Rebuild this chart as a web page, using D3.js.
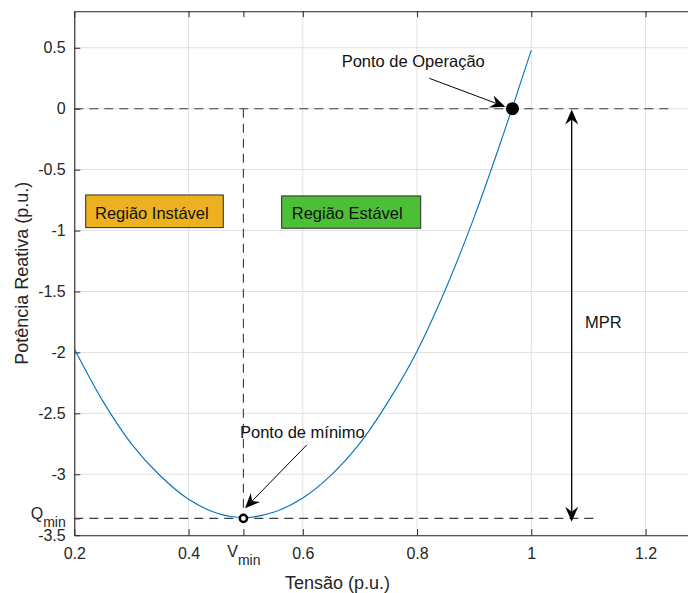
<!DOCTYPE html>
<html>
<head>
<meta charset="utf-8">
<script src="https://cdn.jsdelivr.net/npm/d3@7"></script>
<style>
  body { margin: 0; background: #fff; }
  svg { display: block; }
  text { font-family: "Liberation Sans", Arial, Helvetica, sans-serif; }
</style>
</head>
<body>
<svg id="chart" width="688" height="593"></svg>
<script>
// Curva Q x V (potência reativa em função da tensão)
const voltage  = [0.20, 0.25, 0.30, 0.35, 0.40, 0.45, 0.50, 0.55, 0.60,
                  0.65, 0.70, 0.75, 0.80, 0.85, 0.90, 0.95, 1.00];
const reactive = [-1.97, -2.40, -2.75, -3.01, -3.205, -3.32, -3.355, -3.31, -3.195,
                  -3.005, -2.745, -2.40, -1.99, -1.48, -0.89, -0.225, 0.48];

// Pontos notáveis
const vMin = 0.496, qMin = -3.362;   // ponto de mínimo
const vOp = 0.967, qOp = 0;          // ponto de operação

// Eixos
const xTicks = [0.2, 0.4, 0.6, 0.8, 1.0, 1.2];
const yTicks = [-3.5, -3, -2.5, -2, -1.5, -1, -0.5, 0, 0.5];
const xDomain = [0.2, 1.3];
const yDomain = [-3.5, 0.8];

// Textos
const regionLabels = ["Região Instável", "Região Estável"];
const pointLabels = ["Ponto de Operação", "Ponto de mínimo"];
const marginLabel = "MPR";
const xLabel = "Tensão (p.u.)";
const yLabel = "Potência Reativa (p.u.)";

const svg = d3.select("#chart");
const plotLeft = 74.3, plotRight = 702.7, plotTop = 11.2, plotBottom = 535.2;
const x = d3.scaleLinear().domain(xDomain).range([plotLeft, plotRight]);
const y = d3.scaleLinear().domain(yDomain).range([plotBottom, plotTop]);

const axisColor = "#262626";
const gridColor = "#e1e1e1";
const dashColor = "#3c3c3c";

// Grade
const grid = svg.append("g");
grid.selectAll("line.gx").data(xTicks).join("line")
  .attr("x1", d => x(d)).attr("x2", d => x(d))
  .attr("y1", plotTop).attr("y2", plotBottom)
  .attr("stroke", gridColor).attr("stroke-width", 1);
grid.selectAll("line.gy").data(yTicks).join("line")
  .attr("x1", plotLeft).attr("x2", plotRight)
  .attr("y1", d => y(d)).attr("y2", d => y(d))
  .attr("stroke", gridColor).attr("stroke-width", 1);

// Eixo inferior com V_min
const fmt = d => String(d);
const xAxis = svg.append("g").attr("transform", `translate(0,${plotBottom})`)
  .call(d3.axisBottom(x).tickValues([...xTicks, vMin]).tickSizeInner(-6).tickSizeOuter(0)
        .tickPadding(12.5).tickFormat(d => d === vMin ? "" : fmt(d)));
// Eixo superior (apenas marcas)
const xTop = svg.append("g").attr("transform", `translate(0,${plotTop})`)
  .call(d3.axisTop(x).tickValues([...xTicks, vMin]).tickSizeInner(-6).tickSizeOuter(0)
        .tickFormat(() => ""));
// Eixo esquerdo com Q_min
const yAxis = svg.append("g").attr("transform", `translate(${plotLeft},0)`)
  .call(d3.axisLeft(y).tickValues([...yTicks, qMin]).tickSizeInner(-6).tickSizeOuter(0)
        .tickPadding(8.6).tickFormat(d => d === qMin ? "" : fmt(d)));

[xAxis, xTop, yAxis].forEach(g => {
  g.selectAll("path.domain").attr("stroke", axisColor).attr("stroke-width", 1.1);
  g.selectAll(".tick line").attr("stroke", axisColor).attr("stroke-width", 1);
  g.selectAll(".tick text").attr("fill", axisColor)
    .style("font-family", '"Liberation Sans", Arial, sans-serif').style("font-size", "16px");
});

// Rótulo V_min
const vTick = xAxis.selectAll(".tick").filter(d => d === vMin).select("text")
  .attr("dy", null).attr("y", 21.5).attr("text-anchor", "middle");
vTick.append("tspan").text("V");
vTick.append("tspan").text("min").attr("dy", 8).style("font-size", "14px");

// Rótulo Q_min
const qTick = yAxis.selectAll(".tick").filter(d => d === qMin).select("text")
  .attr("dy", null).attr("y", 0.5).attr("text-anchor", "end");
qTick.append("tspan").text("Q");
qTick.append("tspan").text("min").attr("dy", 7.5).style("font-size", "14px");

// Rótulos dos eixos
svg.append("text").attr("x", 337.5).attr("y", 589)
  .attr("text-anchor", "middle").attr("fill", axisColor)
  .style("font-size", "18px").text(xLabel);
svg.append("text").attr("transform", `translate(28,${(plotTop + plotBottom) / 2}) rotate(-90)`)
  .attr("text-anchor", "middle").attr("fill", axisColor)
  .style("font-size", "18px").text(yLabel);

// Linhas tracejadas de referência
const dashed = svg.append("g").attr("stroke", dashColor).attr("stroke-width", 1.1)
  .attr("stroke-dasharray", "9,6").attr("fill", "none");
dashed.append("line").attr("x1", x(0.2)).attr("x2", x(1.24)).attr("y1", y(0)).attr("y2", y(0));
dashed.append("line").attr("x1", x(vMin)).attr("x2", x(vMin)).attr("y1", y(0)).attr("y2", y(qMin));
dashed.append("line").attr("x1", x(0.2)).attr("x2", x(1.11)).attr("y1", y(qMin)).attr("y2", y(qMin));

// Curva
const pts = voltage.map((v, i) => [v, reactive[i]]);
svg.append("path").datum(pts)
  .attr("d", d3.line().x(d => x(d[0])).y(d => y(d[1])).curve(d3.curveCatmullRom))
  .attr("fill", "none").attr("stroke", "#0072BD").attr("stroke-width", 1.1);

// Caixas de região
const boxes = [
  { label: regionLabels[0], v0: 0.22, v1: 0.4608, q0: -0.708, q1: -0.976, tv: 0.2362, fill: "#EDB120" },
  { label: regionLabels[1], v0: 0.563, v1: 0.8064, q0: -0.716, q1: -0.981, tv: 0.5806, fill: "#4CBF37" }
];
boxes.forEach(b => {
  svg.append("rect").attr("x", x(b.v0)).attr("y", y(b.q0))
    .attr("width", x(b.v1) - x(b.v0)).attr("height", y(b.q1) - y(b.q0))
    .attr("fill", b.fill).attr("stroke", "#2b2b2b").attr("stroke-width", 1);
  svg.append("text").attr("x", x(b.tv)).attr("y", y(-0.905))
    .attr("fill", "#111").style("font-size", "16.5px").text(b.label);
});

// Setas
function arrowHead(g, x1, y1, x2, y2) {
  const L = 15, W = 13, N = 10;
  const dx = x2 - x1, dy = y2 - y1, len = Math.hypot(dx, dy);
  const ux = dx / len, uy = dy / len, px = -uy, py = ux;
  const head = [
    [x2, y2],
    [x2 - L * ux + W / 2 * px, y2 - L * uy + W / 2 * py],
    [x2 - N * ux, y2 - N * uy],
    [x2 - L * ux - W / 2 * px, y2 - L * uy - W / 2 * py]
  ];
  g.append("polygon").attr("points", head.map(p => p.join(",")).join(" ")).attr("fill", "#000");
  return [x2 - N * ux, y2 - N * uy];
}
function arrow(x1, y1, x2, y2, width) {
  const g = svg.append("g");
  const end = arrowHead(g, x1, y1, x2, y2);
  g.append("line").attr("x1", x1).attr("y1", y1).attr("x2", end[0]).attr("y2", end[1])
    .attr("stroke", "#000").attr("stroke-width", width);
}
function doubleArrow(x1, y1, x2, y2, width) {
  const g = svg.append("g");
  const a = arrowHead(g, x2, y2, x1, y1);
  const b = arrowHead(g, x1, y1, x2, y2);
  g.append("line").attr("x1", a[0]).attr("y1", a[1]).attr("x2", b[0]).attr("y2", b[1])
    .attr("stroke", "#000").attr("stroke-width", width);
}

// MPR: margem de potência reativa
doubleArrow(x(1.0707), y(-0.006), x(1.0707), y(-3.389), 1.3);
svg.append("text").attr("x", x(1.094)).attr("y", y(-1.80))
  .attr("fill", "#111").style("font-size", "16.5px").text(marginLabel);

// Ponto de operação
arrow(x(0.8215), y(0.249), x(0.9545), y(0.016), 1);
svg.append("text").attr("x", x(0.668)).attr("y", y(0.345))
  .attr("fill", "#111").style("font-size", "16.5px").text(pointLabels[0]);

// Ponto de mínimo
arrow(x(0.6068), y(-2.76), x(0.4988), y(-3.279), 1);
svg.append("text").attr("x", x(0.490)).attr("y", y(-2.70))
  .attr("fill", "#111").style("font-size", "16.5px").text(pointLabels[1]);

// Marcadores
svg.append("circle").attr("cx", x(vOp)).attr("cy", y(qOp)).attr("r", 6.5).attr("fill", "#000");
svg.append("circle").attr("cx", x(vMin)).attr("cy", y(qMin)).attr("r", 3.6)
  .attr("fill", "#fff").attr("stroke", "#000").attr("stroke-width", 2.4);
</script>
</body>
</html>
